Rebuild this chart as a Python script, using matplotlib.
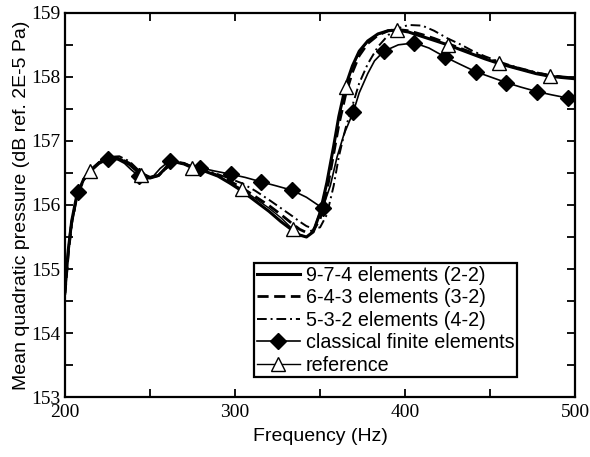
import numpy as np
import matplotlib.pyplot as plt
from matplotlib.ticker import MultipleLocator

# frequency grid of the smooth curves (Hz)
freq = [200, 202, 204, 207, 211, 215, 220, 226, 232, 238, 245, 250, 255, 260, 265,
        270, 275, 282, 290, 297, 304, 312, 320, 327, 334, 338, 342, 346, 350, 354,
        358, 361, 365, 369, 373, 378, 384, 390, 395, 402, 410, 417, 425, 433, 440,
        447, 455, 463, 470, 477, 485, 492, 500]

# reference solution
reference = [154.65, 155.3, 155.75, 156.15, 156.4, 156.53, 156.65, 156.73, 156.72, 156.63,
             156.47, 156.42, 156.46, 156.6, 156.67, 156.64, 156.58, 156.53, 156.45, 156.35,
             156.25, 156.1, 155.95, 155.8, 155.62, 155.54, 155.5, 155.6, 155.9, 156.35,
             156.9, 157.35, 157.84, 158.15, 158.38, 158.55, 158.66, 158.72, 158.73, 158.7,
             158.63, 158.57, 158.5, 158.42, 158.35, 158.28, 158.21, 158.15, 158.1, 158.05,
             158.01, 157.99, 157.97]
ref_marks = [215, 245, 275, 304, 334, 365, 395, 425, 455, 485]

# 9-7-4 elements (2-2)
e974 = [154.65, 155.3, 155.75, 156.15, 156.4, 156.53, 156.65, 156.73, 156.72, 156.63,
        156.47, 156.42, 156.46, 156.6, 156.67, 156.64, 156.58, 156.53, 156.45, 156.34,
        156.22, 156.06, 155.9, 155.74, 155.6, 155.53, 155.5, 155.58, 155.88, 156.35,
        156.92, 157.38, 157.86, 158.17, 158.4, 158.56, 158.67, 158.72, 158.73, 158.7,
        158.63, 158.57, 158.5, 158.42, 158.35, 158.28, 158.21, 158.15, 158.1, 158.05,
        158.01, 157.99, 157.97]

# 6-4-3 elements (3-2)
e643 = [154.6, 155.25, 155.72, 156.13, 156.4, 156.53, 156.66, 156.74, 156.73, 156.65,
        156.48, 156.43, 156.46, 156.59, 156.67, 156.65, 156.59, 156.54, 156.46, 156.37,
        156.27, 156.13, 155.99, 155.85, 155.7, 155.62, 155.57, 155.6, 155.78, 156.22,
        156.8, 157.25, 157.72, 158.07, 158.33, 158.52, 158.65, 158.72, 158.74, 158.72,
        158.66, 158.6, 158.52, 158.44, 158.37, 158.3, 158.22, 158.16, 158.11, 158.06,
        158.02, 158.0, 157.98]

# 5-3-2 elements (4-2)
e532 = [154.6, 155.25, 155.7, 156.1, 156.38, 156.52, 156.66, 156.75, 156.76, 156.68,
        156.5, 156.44, 156.46, 156.58, 156.66, 156.65, 156.6, 156.55, 156.48, 156.41,
        156.34, 156.22, 156.08, 155.95, 155.82, 155.74, 155.67, 155.63, 155.65, 155.85,
        156.3, 156.75, 157.2, 157.55, 157.9, 158.2, 158.47, 158.65, 158.75, 158.81,
        158.8, 158.72, 158.6, 158.5, 158.4, 158.32, 158.24, 158.17, 158.12, 158.07,
        158.03, 158.0, 157.98]

# classical finite elements
fe_freq = [200, 203, 207.5, 212, 216, 220, 225.5, 230, 235, 239, 243.5, 248, 252, 256,
           261.5, 267, 273, 279.5, 288, 297.5, 306, 315.5, 324, 333.5, 342, 351.5, 356,
           360, 364, 369.5, 373, 378, 382, 387.5, 396, 405.5, 414, 423.5, 432, 441.5,
           450, 459.5, 468, 477.5, 486, 495.5, 500]
fe_vals = [154.7, 155.6, 156.2, 156.45, 156.58, 156.67, 156.72, 156.72, 156.65, 156.55,
           156.45, 156.4, 156.45, 156.57, 156.69, 156.66, 156.62, 156.58, 156.53, 156.48,
           156.43, 156.36, 156.3, 156.23, 156.12, 155.95, 156.3, 156.75, 157.1, 157.45,
           157.75, 158.05, 158.25, 158.4, 158.5, 158.53, 158.45, 158.31, 158.2, 158.08,
           158.0, 157.91, 157.84, 157.77, 157.72, 157.67, 157.66]
fe_marks = [207.5, 225.5, 243.5, 261.5, 279.5, 297.5, 315.5, 333.5, 351.5, 369.5,
            387.5, 405.5, 423.5, 441.5, 459.5, 477.5, 495.5]

sans = 'Liberation Sans'
serif = 'Liberation Serif'

fig = plt.figure(figsize=(5.9, 4.57), dpi=100)
ax = fig.add_axes([0.110, 0.131, 0.865, 0.841])

ax.plot(freq, e974, color='black', lw=2.2, label='9-7-4 elements (2-2)')
ax.plot(freq, e643, color='black', lw=2.0, ls=(0, (4, 2)), label='6-4-3 elements (3-2)')
ax.plot(freq, e532, color='black', lw=1.4, ls=(0, (5, 2, 1, 2)), label='5-3-2 elements (4-2)')
ax.plot(fe_freq, fe_vals, color='black', lw=1.2, marker='D', ms=8,
        markevery=list(np.where(np.isin(fe_freq, fe_marks))[0]),
        label='classical finite elements')
ax.plot(freq, reference, color='black', lw=1.0, marker='^', ms=10, mfc='white', mec='black',
        mew=1.0, markevery=list(np.where(np.isin(freq, ref_marks))[0]), label='reference')

ax.set_xlim(200, 500)
ax.set_ylim(153, 159)
ax.xaxis.set_major_locator(MultipleLocator(100))
ax.xaxis.set_minor_locator(MultipleLocator(50))
ax.yaxis.set_major_locator(MultipleLocator(1))
ax.yaxis.set_minor_locator(MultipleLocator(0.5))
ax.tick_params(which='both', direction='in', top=True, right=True, width=1.3, length=6)
ax.tick_params(axis='x', which='major', pad=5)
ax.tick_params(axis='y', which='major', pad=3)
for lab in ax.get_xticklabels() + ax.get_yticklabels():
    lab.set_fontfamily(serif)
    lab.set_fontsize(14)
for s in ax.spines.values():
    s.set_linewidth(1.6)

ax.set_xlabel('Frequency (Hz)', family=sans, fontsize=14, labelpad=5)
ax.set_ylabel('Mean quadratic pressure (dB ref. 2E-5 Pa)', family=sans, fontsize=14, labelpad=1)

leg = ax.legend(loc='lower left', bbox_to_anchor=(0.371, 0.052), prop={'family': sans, 'size': 14.2},
                frameon=True, fancybox=False, framealpha=1, edgecolor='black',
                handlelength=2.2, handletextpad=0.3, labelspacing=0.18, borderpad=0.12,
                borderaxespad=0)
leg.get_frame().set_linewidth(1.6)

fig.savefig('out.png', dpi=100)
